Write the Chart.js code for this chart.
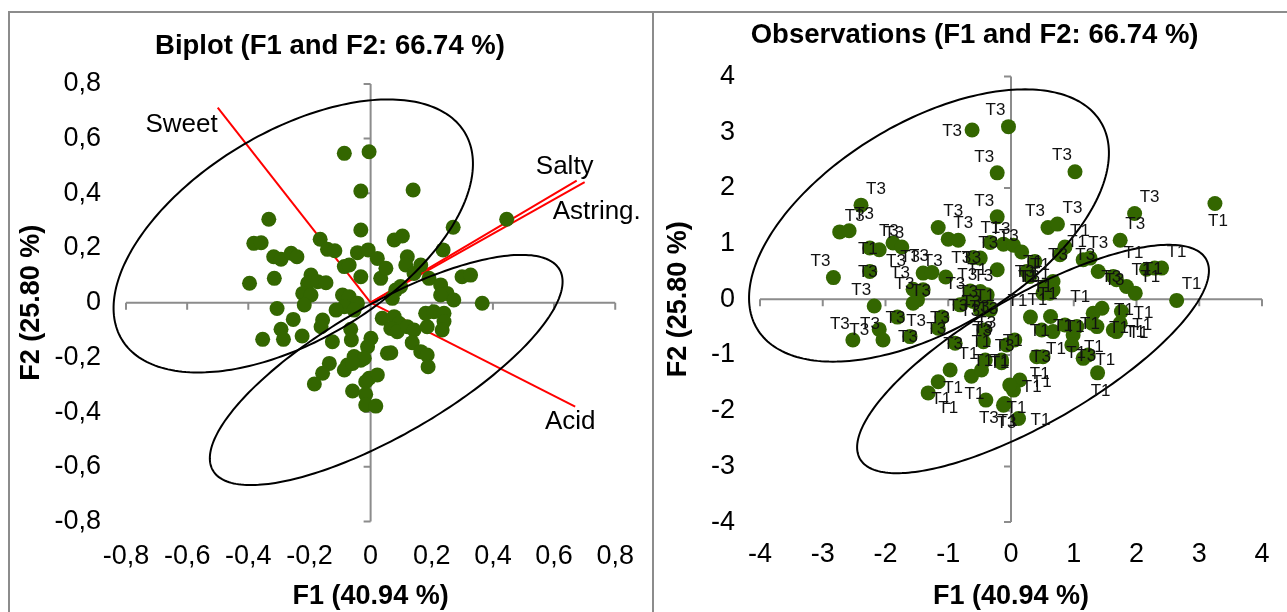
<!DOCTYPE html>
<html>
<head>
<meta charset="utf-8">
<title>PCA biplot and observations</title>
<script src="https://cdn.jsdelivr.net/npm/chart.js@4.4.1/dist/chart.umd.min.js"></script>
<style>
  body { margin: 0; background: #fff; }
  #page { position: relative; width: 1287px; height: 612px; overflow: hidden; }
  .rule { position: absolute; background: #8c8c8c; }
  canvas { position: absolute; top: 0; }
</style>
</head>
<body>
<div id="page">
  <div class="rule" style="left:8px;top:11px;width:1279px;height:2px"></div>
  <div class="rule" style="left:8px;top:11px;width:2px;height:601px"></div>
  <div class="rule" style="left:652px;top:11px;width:2px;height:601px"></div>
  <canvas id="biplot" width="653" height="612" style="left:0"></canvas>
  <canvas id="observations" width="634" height="612" style="left:653px"></canvas>
</div>
<script>
// sensory attributes (correlation circle vectors)
const attributes = ['Sweet', 'Salty', 'Astring.', 'Acid'];
const attrF1 = [-0.50, 0.674, 0.70, 0.669];
const attrF2 = [0.713, 0.446, 0.441, -0.38];

// observations, biplot scaling
const biF1 = [
  -0.086, -0.005, -0.032, 0.139, -0.333, -0.032, 0.270, 0.445, -0.382, -0.358,
  -0.165, 0.077, 0.104, -0.317, -0.293, -0.260, -0.241, -0.141, -0.117, -0.043,
  -0.008, 0.022, -0.086, -0.070, -0.032, 0.033, 0.050, 0.120, 0.115, 0.164,
  0.142, 0.237, 0.299, 0.327, -0.396, -0.315, -0.195, -0.206, -0.173, -0.146,
  -0.222, -0.195, -0.217, -0.092, -0.070, -0.043, -0.086, -0.113, -0.054, 0.082,
  0.098, 0.071, 0.191, 0.229, 0.250, 0.272, 0.229, 0.365, -0.306, -0.253,
  -0.293, -0.285, -0.353, -0.224, -0.157, -0.162, -0.065, -0.063, -0.125, 0.001,
  -0.010, 0.038, 0.077, 0.093, 0.066, 0.087, 0.120, 0.142, 0.185, 0.180,
  0.207, 0.240, 0.240, 0.234, 0.136, 0.164, 0.185, 0.188, 0.055, 0.066,
  -0.054, -0.032, -0.021, -0.076, -0.086, -0.059, -0.135, -0.157, -0.184, -0.005,
  0.022, -0.016, -0.059, -0.016, -0.016, 0.017
];
const biF2 = [
  0.546, 0.552, 0.408, 0.412, 0.305, 0.266, 0.276, 0.305, 0.217, 0.219,
  0.232, 0.229, 0.244, 0.168, 0.159, 0.181, 0.168, 0.195, 0.190, 0.183,
  0.193, 0.162, 0.132, 0.138, 0.095, 0.089, 0.126, 0.168, 0.138, 0.138,
  0.107, 0.193, 0.095, 0.101, 0.071, 0.089, 0.101, 0.071, 0.077, 0.073,
  0.034, 0.028, -0.008, 0.028, 0.022, -0.002, -0.015, -0.027, -0.027, 0.046,
  0.059, 0.016, 0.089, 0.065, 0.034, 0.010, 0.028, -0.002, -0.021, -0.061,
  -0.097, -0.134, -0.134, -0.122, -0.063, -0.088, -0.097, -0.136, -0.143, -0.130,
  -0.161, -0.057, -0.051, -0.075, -0.094, -0.106, -0.088, -0.100, -0.088, -0.039,
  -0.033, -0.039, -0.069, -0.100, -0.146, -0.179, -0.191, -0.234, -0.185, -0.183,
  -0.197, -0.210, -0.203, -0.228, -0.246, -0.222, -0.222, -0.258, -0.297, -0.276,
  -0.264, -0.289, -0.323, -0.335, -0.374, -0.378
];

// observation scores
const obsF1 = [
  -0.62, -0.04, -0.22, 1.02, -2.39, -2.73, -2.58, -2.25, -2.10, -1.88,
  -1.74, -2.83, -2.25, -1.16, -1.00, -0.84, -0.22, -0.33, -0.12, -0.60,
  -0.49, -0.22, -1.40, -1.26, -1.04, -1.56, -1.40, -0.65, -0.49, -0.38,
  -0.60, -0.44, -0.33, -0.49, -2.18, -1.81, -2.10, -2.04, -2.52, -1.61,
  -1.10, -1.16, -0.89, -1.49, -1.56, -0.81, -0.68, -0.47, -0.33, -0.43,
  -0.44, 3.25, 1.97, 0.59, 0.74, 1.74, 0.04, 0.17, 0.86, 0.78,
  1.15, 1.26, 0.38, 0.25, 1.39, 2.16, 2.29, 2.40, 0.67, 0.51,
  1.68, 1.84, 1.98, 2.64, 1.63, 0.30, 0.54, 0.62, 0.67, 0.31,
  0.63, 0.49, 0.67, 0.86, 1.05, 0.99, 1.31, 1.45, 1.29, 1.37,
  1.76, 1.74, 1.63, 0.97, 1.15, 1.23, 1.38, 0.06, -0.07, -0.15,
  -0.12, 0.41, 0.51, 0.14, 0.04, 0.12, -0.97, -1.16, -1.32, -0.63,
  -0.47, -0.41, -0.15, -0.40, -0.10, -0.02, 1.68
];
const obsF2 = [
  3.04, 3.10, 2.27, 2.29, 1.69, 1.21, 1.23, 0.92, 0.89, 1.01,
  0.94, 0.39, 0.50, 1.29, 1.08, 1.06, 1.48, 1.02, 0.99, 0.75,
  0.74, 0.53, 0.47, 0.48, 0.40, 0.18, 0.17, 0.15, 0.14, 0.08,
  -0.04, -0.10, -0.19, -0.19, -0.12, -0.32, -0.54, -0.73, -0.73, -0.67,
  -0.32, -0.52, -0.79, -0.01, -0.07, -0.10, -0.01, -0.13, -0.16, -0.55,
  -0.76, 1.72, 1.54, 1.29, 1.35, 1.06, 0.97, 0.85, 0.94, 0.80,
  0.71, 0.74, 0.68, 0.50, 0.50, 0.54, 0.56, 0.56, 0.32, 0.11,
  0.35, 0.23, 0.11, -0.02, 0.41, 0.41, 0.23, 0.11, 0.17, -0.32,
  -0.31, -0.55, -0.58, -0.46, -0.49, -0.64, -0.25, -0.16, -0.43, -0.49,
  -0.22, -0.43, -0.55, -0.82, -1.06, -1.00, -1.32, -0.73, -0.82, -1.09,
  -1.90, -1.03, -1.03, -1.45, -1.63, -2.14, -1.27, -1.48, -1.68, -1.38,
  -1.27, -1.09, -1.14, -1.81, -1.87, -1.54, -0.58
];
const obsGroup = [
  'T3', 'T3', 'T3', 'T3', 'T3', 'T3', 'T3', 'T1', 'T3', 'T3',
  'T3', 'T3', 'T3', 'T3', 'T3', 'T3', 'T3', 'T3', 'T1', 'T3',
  'T3', 'T1', 'T3', 'T3', 'T3', 'T3', 'T3', 'T3', 'T3', 'T1',
  'T3', 'T3', 'T3', 'T3', 'T3', 'T3', 'T3', 'T3', 'T3', 'T3',
  'T3', 'T3', 'T3', 'T3', 'T3', 'T3', 'T3', 'T3', 'T3', 'T3',
  'T1', 'T1', 'T3', 'T3', 'T3', 'T3', 'T3', 'T3', 'T1', 'T3',
  'T3', 'T1', 'T1', 'T3', 'T3', 'T1', 'T1', 'T1', 'T1', 'T3',
  'T3', 'T1', 'T1', 'T1', 'T3', 'T1', 'T1', 'T1', 'T1', 'T1',
  'T1', 'T1', 'T1', 'T1', 'T1', 'T1', 'T1', 'T1', 'T1', 'T1',
  'T1', 'T1', 'T1', 'T1', 'T1', 'T3', 'T1', 'T1', 'T3', 'T1',
  'T3', 'T1', 'T3', 'T1', 'T1', 'T1', 'T1', 'T1', 'T1', 'T1',
  'T1', 'T1', 'T1', 'T3', 'T1', 'T1', 'T1'
];

// where each observation label sits relative to its point
const obsLabelSpot = [
  'l', 'tl', 'tl', 'tl', 'tr', 'tr', 'tr', 'c', 'tr', 'b',
  'tl', 'tl', 'c', 'tr', 'tr', 'b', 'tl', 'c', 'tl', 'c',
  'b', 'l', 'tl', 'tl', 'tl', 'tl', 'c', 'c', 'tl', 'c',
  'c', 'b', 'l', 'b', 'tl', 'c', 'l', 'tl', 'tl', 'c',
  'c', 'c', 'c', 'tl', 'b', 'c', 'tl', 'c', 'c', 'c',
  'c', 'b', 'tr', 'tl', 'tr', 'tr', 'tl', 'tl', 'tr', 'c',
  'tr', 'tl', 'c', 'c', 'tl', 'tl', 'c', 'tr', 'tl', 'tl',
  'c', 'tr', 'tr', 'tr', 'c', 'c', 'c', 'c', 'tl', 'tl',
  'tl', 'c', 'b', 'c', 'c', 'b', 'tl', 'r', 'c', 'r',
  'r', 'r', 'r', 'r', 'r', 'c', 'b', 'c', 'c', 'c',
  'b', 'b', 'c', 'r', 'b', 'r', 'b', 'b', 'br', 'b',
  'tl', 'c', 'c', 'b', 'b', 'r', 'r'
];
const spotOffset = {
  tl: [-13, -16], tr: [15, -16], l: [-20, 1], r: [22, 2],
  b: [3, 18], br: [20, 15], c: [-2, 1]
};

// group ellipses: centre, then two conjugate semi-axes (F1, F2 units)
const biEllipseT3 = [-0.253, 0.244, 0.561, 0.378, -0.175, 0.326];
const biEllipseT1 = [0.051, -0.246, 0.567, 0.367, -0.106, 0.206];
const obsEllipseT3 = [-1.307, 1.325, 2.739, 1.855, -0.849, 1.592];
const obsEllipseT1 = [0.351, -1.072, 2.757, 1.794, -0.508, 0.992];

const FONT = '"Liberation Sans", Arial, Helvetica, sans-serif';
const GREEN = '#336600';
const AXIS_GREY = '#8c8c8c';

function commaTick(v) {
  if (Math.abs(v) < 1e-9) return '0';
  return v.toFixed(1).replace('.', ',');
}

// Excel-style axes crossing at the origin, ticks pointing outwards
const crossAxes = {
  id: 'crossAxes',
  beforeDatasetsDraw(chart) {
    const { ctx, scales: { x, y } } = chart;
    const x0 = x.getPixelForValue(0);
    const y0 = y.getPixelForValue(0);
    ctx.save();
    ctx.strokeStyle = AXIS_GREY;
    ctx.lineWidth = 2;
    ctx.beginPath();
    ctx.moveTo(x.left, y0);
    ctx.lineTo(x.right, y0);
    ctx.moveTo(x0, y.top);
    ctx.lineTo(x0, y.bottom);
    x.ticks.forEach(t => {
      const p = x.getPixelForValue(t.value);
      ctx.moveTo(p, y0);
      ctx.lineTo(p, y0 + 7);
    });
    y.ticks.forEach(t => {
      const p = y.getPixelForValue(t.value);
      ctx.moveTo(x0 - 7, p);
      ctx.lineTo(x0, p);
    });
    ctx.stroke();
    ctx.restore();
  }
};

function ellipsePlugin(shapes) {
  return {
    id: 'groupEllipses',
    afterDatasetsDraw(chart) {
      const { ctx, scales: { x, y } } = chart;
      ctx.save();
      ctx.strokeStyle = '#000';
      ctx.lineWidth = 2;
      shapes.forEach(([cx, cy, ux, uy, vx, vy]) => {
        ctx.beginPath();
        for (let i = 0; i <= 240; i++) {
          const t = (i / 240) * Math.PI * 2;
          const px = x.getPixelForValue(cx + ux * Math.cos(t) + vx * Math.sin(t));
          const py = y.getPixelForValue(cy + uy * Math.cos(t) + vy * Math.sin(t));
          if (i === 0) ctx.moveTo(px, py); else ctx.lineTo(px, py);
        }
        ctx.closePath();
        ctx.stroke();
      });
      ctx.restore();
    }
  };
}

// attribute vectors go under the points, their names on top
const attrLabelDx = [0, -12, -32, -5];
const attrLabelDy = [17, -14, 30, 15];
const attrLabelAlign = ['right', 'center', 'left', 'center'];

const attributeVectors = {
  id: 'attributeVectors',
  beforeDatasetsDraw(chart) {
    const { ctx, scales: { x, y } } = chart;
    const x0 = x.getPixelForValue(0);
    const y0 = y.getPixelForValue(0);
    ctx.save();
    ctx.strokeStyle = '#ff0000';
    ctx.lineWidth = 2;
    attributes.forEach((name, i) => {
      ctx.beginPath();
      ctx.moveTo(x0, y0);
      ctx.lineTo(x.getPixelForValue(attrF1[i]), y.getPixelForValue(attrF2[i]));
      ctx.stroke();
    });
    ctx.restore();
  },
  afterDatasetsDraw(chart) {
    const { ctx, scales: { x, y } } = chart;
    ctx.save();
    ctx.fillStyle = '#000';
    ctx.font = '26px ' + FONT;
    ctx.textBaseline = 'middle';
    attributes.forEach((name, i) => {
      ctx.textAlign = attrLabelAlign[i];
      ctx.fillText(name,
        x.getPixelForValue(attrF1[i]) + attrLabelDx[i],
        y.getPixelForValue(attrF2[i]) + attrLabelDy[i]);
    });
    ctx.restore();
  }
};

const observationLabels = {
  id: 'observationLabels',
  afterDatasetsDraw(chart) {
    const { ctx, scales: { x, y } } = chart;
    ctx.save();
    ctx.fillStyle = '#111';
    ctx.font = '17px ' + FONT;
    ctx.textAlign = 'center';
    ctx.textBaseline = 'middle';
    obsGroup.forEach((label, i) => {
      const [dx, dy] = spotOffset[obsLabelSpot[i]];
      ctx.fillText(label, x.getPixelForValue(obsF1[i]) + dx, y.getPixelForValue(obsF2[i]) + dy);
    });
    ctx.restore();
  }
};

function valueAxis(min, max, step, format, titleText, tickPad, titlePad, fit) {
  return {
    type: 'linear',
    min: min,
    max: max,
    grid: { display: false, drawTicks: false },
    border: { display: false },
    ticks: {
      stepSize: step,
      padding: tickPad,
      color: '#000',
      font: { family: FONT, size: 27 },
      callback: format,
      maxRotation: 0,
      autoSkip: false
    },
    title: {
      display: true,
      text: titleText,
      color: '#000',
      font: { family: FONT, size: 27, weight: 'bold' },
      padding: titlePad
    },
    afterFit: fit
  };
}

function pointsOf(xs, ys) {
  return xs.map((v, i) => ({ x: v, y: ys[i] }));
}

new Chart(document.getElementById('biplot'), {
  type: 'scatter',
  data: {
    datasets: [{
      data: pointsOf(biF1, biF2),
      backgroundColor: GREEN,
      borderWidth: 0,
      pointRadius: 7.5,
      pointHoverRadius: 7.5
    }]
  },
  options: {
    responsive: false,
    animation: false,
    events: [],
    layout: { padding: { left: 43, right: 36, top: 0, bottom: 0 } },
    plugins: {
      legend: { display: false },
      tooltip: { enabled: false },
      title: {
        display: true,
        text: 'Biplot (F1 and F2: 66.74 %)',
        color: '#000',
        font: { family: FONT, size: 27.5, weight: 'bold' },
        padding: { top: 29.5, bottom: 21.4 }
      }
    },
    scales: {
      x: valueAxis(-0.8, 0.8, 0.2, commaTick, 'F1 (40.94 %)', 19,
        { top: 0, bottom: -1 }, s => { s.height = 90.5; }),
      y: valueAxis(-0.8, 0.8, 0.2, commaTick, 'F2 (25.80 %)', 25,
        { top: -27.7, bottom: 0 }, s => { s.width = 83; })
    }
  },
  plugins: [crossAxes, attributeVectors, ellipsePlugin([biEllipseT3, biEllipseT1])]
});

new Chart(document.getElementById('observations'), {
  type: 'scatter',
  data: {
    datasets: [{
      data: pointsOf(obsF1, obsF2),
      backgroundColor: GREEN,
      borderWidth: 0,
      pointRadius: 7.5,
      pointHoverRadius: 7.5
    }]
  },
  options: {
    responsive: false,
    animation: false,
    events: [],
    layout: { padding: { left: 34.2, right: 25, top: 0, bottom: 0 } },
    plugins: {
      legend: { display: false },
      tooltip: { enabled: false },
      title: {
        display: true,
        text: 'Observations (F1 and F2: 66.74 %)',
        color: '#000',
        font: { family: FONT, size: 27.5, weight: 'bold' },
        padding: { top: 18.5, bottom: 25 }
      }
    },
    scales: {
      x: valueAxis(-4, 4, 1, v => String(v), 'F1 (40.94 %)', 16,
        { top: 0, bottom: -1 }, s => { s.height = 89.9; }),
      y: valueAxis(-4, 4, 1, v => String(v), 'F2 (25.80 %)', 25,
        { top: -24.4, bottom: 0 }, s => { s.width = 72.8; })
    }
  },
  plugins: [crossAxes, ellipsePlugin([obsEllipseT3, obsEllipseT1]), observationLabels]
});
</script>
</body>
</html>
